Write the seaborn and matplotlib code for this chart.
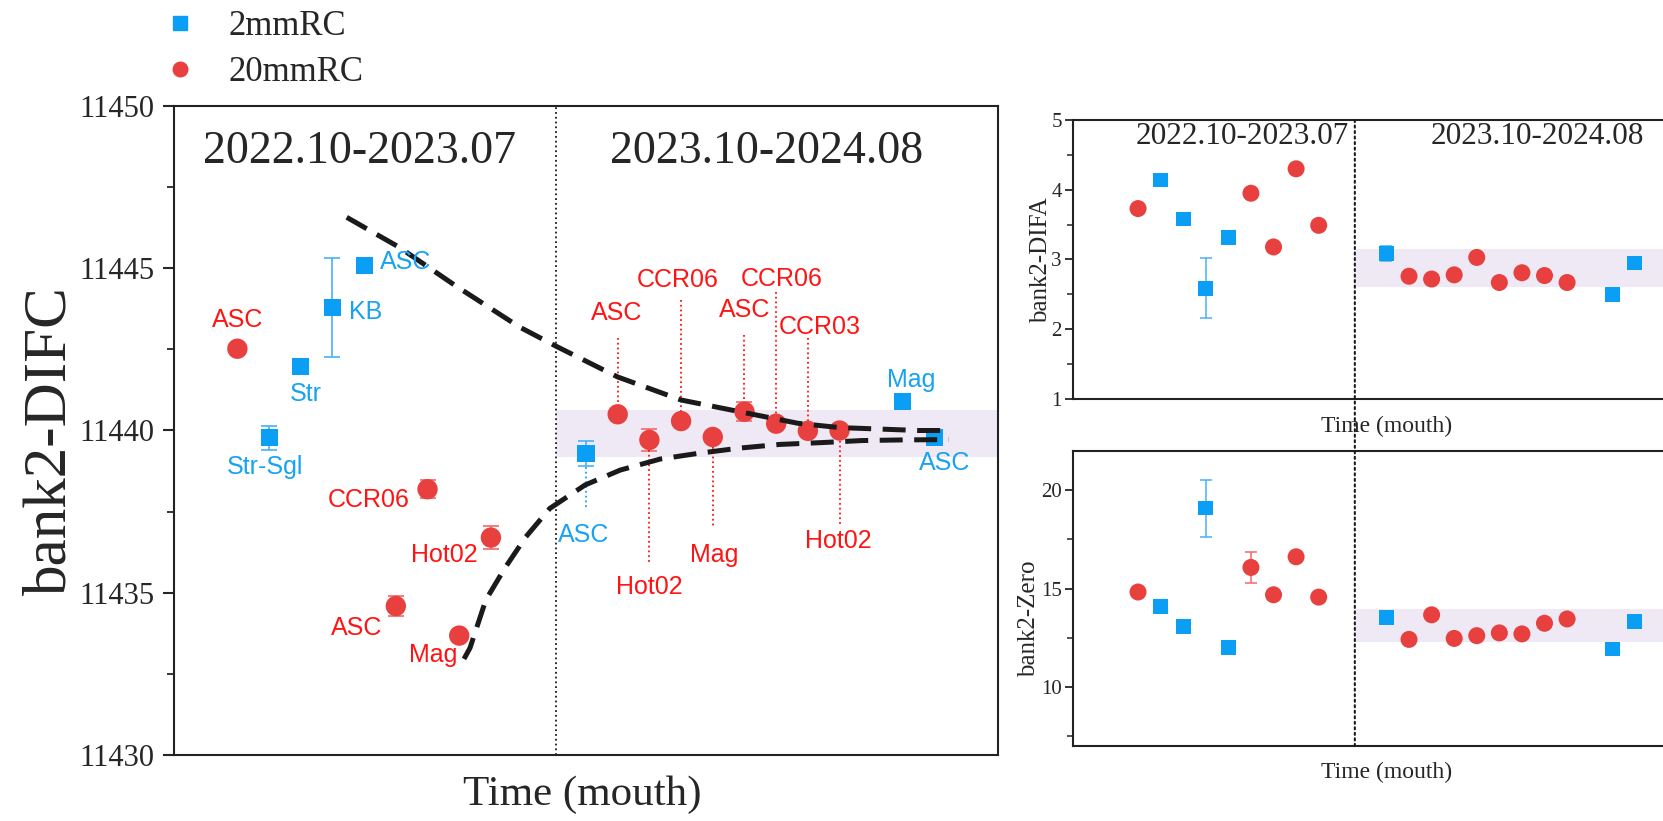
import numpy as np
import pandas as pd
import matplotlib
matplotlib.use("Agg")
import matplotlib.pyplot as plt
import seaborn as sns
from matplotlib.lines import Line2D
from matplotlib.patches import ConnectionPatch
from matplotlib.ticker import AutoMinorLocator, MultipleLocator

# ---------------- data ----------------
slot = [0, 1, 2, 3, 4, 5, 6, 7, 8, 11, 12, 13, 14, 15, 16, 17, 18, 19, 21, 22]
rc_type = ["20mmRC", "2mmRC", "2mmRC", "2mmRC", "2mmRC", "20mmRC", "20mmRC", "20mmRC", "20mmRC",
           "2mmRC", "20mmRC", "20mmRC", "20mmRC", "20mmRC", "20mmRC", "20mmRC", "20mmRC", "20mmRC",
           "2mmRC", "2mmRC"]
sample = ["ASC", "Str-Sgl", "Str", "KB", "ASC", "ASC", "CCR06", "Mag", "Hot02",
          "ASC", "ASC", "Hot02", "CCR06", "Mag", "ASC", "CCR06", "CCR03", "Hot02", "Mag", "ASC"]
difc = [11442.52, 11439.78, 11441.98, 11443.80, 11445.08, 11434.59, 11438.19, 11433.68, 11436.70,
        11439.30, 11440.50, 11439.71, 11440.29, 11439.80, 11440.58, 11440.21, 11439.99, 11440.00,
        11440.89, 11439.79]
difc_err = [0, 0.37, 0, 1.53, 0, 0.30, 0.27, 0.15, 0.35,
            0.38, 0, 0.33, 0, 0, 0.30, 0, 0, 0, 0, 0]
difa = [3.73, 4.14, 3.58, 2.59, 3.32, 3.95, 3.18, 4.30, 3.49,
        3.09, 2.76, 2.72, 2.78, 3.03, 2.67, 2.81, 2.77, 2.67, 2.50, 2.95]
difa_err = [0, 0, 0, 0.43, 0, 0, 0, 0, 0,
            0.11, 0, 0.05, 0, 0, 0, 0, 0, 0, 0, 0]
zero = [14.83, 14.11, 13.09, 19.10, 12.01, 16.08, 14.69, 16.62, 14.57,
        13.55, 12.42, 13.67, 12.47, 12.61, 12.75, 12.70, 13.24, 13.46, 11.93, 13.34]
zero_err = [0, 0, 0, 1.45, 0, 0.77, 0, 0, 0,
            0, 0, 0, 0, 0, 0, 0, 0, 0, 0, 0]

periods = ["2022.10-2023.07", "2023.10-2024.08"]
difc_band = [11439.19, 11440.62]
difa_band = [2.61, 3.15]
zero_band = [12.27, 13.96]

# guide curves
upper_x = [3.45, 5.1, 6.9, 8.9, 10.05, 12.0, 14.0, 16.0, 17.7, 19.0, 21.5, 22.45]
upper_y = [11446.57, 11445.65, 11444.45, 11443.19, 11442.60, 11441.65, 11440.94, 11440.55,
           11440.22, 11440.09, 11440.00, 11440.00]
lower_x = [7.15, 7.34, 7.84, 8.44, 9.1, 9.86, 10.97, 12.08, 13.34, 14.57, 15.87, 17.1, 18.5,
           19.7, 21.0, 22.45]
lower_y = [11432.96, 11433.30, 11434.78, 11435.76, 11436.72, 11437.60, 11438.32, 11438.78,
           11439.12, 11439.30, 11439.46, 11439.57, 11439.63, 11439.69, 11439.71, 11439.72]

df = pd.DataFrame({"slot": slot, "type": rc_type, "sample": sample,
                   "DIFC": difc, "DIFC_err": difc_err,
                   "DIFA": difa, "DIFA_err": difa_err,
                   "Zero": zero, "Zero_err": zero_err})

# ---------------- style ----------------
BLUE = "#0A9FF5"
RED = "#E8403F"
BLUE_TXT = "#17A2F2"
RED_TXT = "#FF1414"
BLUE_ERR = "#45B3F5"
RED_ERR = "#F06A6A"
BAND = "#EEE9F4"
SERIF = ["Liberation Serif", "DejaVu Serif"]
SANS = ["Liberation Sans", "DejaVu Sans"]

sns.set_theme(style="white")
plt.rcParams["font.family"] = SERIF
plt.rcParams["axes.edgecolor"] = "#222222"
plt.rcParams["axes.linewidth"] = 1.5

palette = {"2mmRC": BLUE, "20mmRC": RED}
markers = {"2mmRC": "s", "20mmRC": "o"}
errcol = {"2mmRC": BLUE_ERR, "20mmRC": RED_ERR}
txtcol = {"2mmRC": BLUE_TXT, "20mmRC": RED_TXT}

W, H = 1663, 821
fig = plt.figure(figsize=(W / 100, H / 100), dpi=100)

# ---------------- main panel ----------------
ax = fig.add_axes([174 / W, 1 - 755 / H, 824 / W, 649 / H])
DIV = 10.05
ax.set_xlim(-2, 24)
ax.set_ylim(11430, 11450)
ax.fill_between([DIV, 24], difc_band[0], difc_band[1], color=BAND, lw=0, zorder=0)
ax.axvline(DIV, color="k", ls=":", lw=1.3, zorder=1)

for _, r in df[df.DIFC_err > 0].iterrows():
    ax.errorbar(r.slot, r.DIFC, yerr=r.DIFC_err, fmt="none", ecolor=errcol[r.type],
                elinewidth=1.2, capsize=6, capthick=1.2, zorder=2)

sns.scatterplot(data=df, x="slot", y="DIFC", hue="type", style="type", size="type",
                hue_order=["2mmRC", "20mmRC"], palette=palette, markers=markers,
                sizes={"2mmRC": 150, "20mmRC": 215}, linewidth=0, legend=False,
                ax=ax, zorder=3)

dash = (0, (4.6, 2.3))
ax.plot(upper_x, upper_y, color="k", lw=3.6, ls=dash, zorder=4)
ax.plot(lower_x, lower_y, color="k", lw=3.6, ls=dash, zorder=4)

# label layout: text offset (px) and optional leader (px from point)
lab_off = [(0, 29), (-4, -29), (5, -28), (33, -5), (41, 4), (-39, -22), (-59, -11), (-26, -19),
           (-47, -17), (-2, -82), (-1, 101), (0, -147), (-3, 141), (1, -118), (0, 102),
           (6, 145), (12, 104), (-1, -111), (8, 22), (10, -26)]
leaders = [None] * 9 + [(-14, -57), (76, 9), (-10, -122), (121, 1), (-10, -91), (77, 5),
                        (132, 4), (93, 4), (-6, -94), None, None]

ppu = (649) / 20.0  # px per data unit on y
for i, r in df.iterrows():
    dx, dy = lab_off[i]
    ax.annotate(r["sample"], xy=(r.slot, r.DIFC), xytext=(dx, dy), textcoords="offset pixels",
                ha="center", va="center", fontsize=18, family=SANS, color=txtcol[r.type],
                zorder=5)
    if leaders[i] is not None:
        a, b = leaders[i]
        ax.plot([r.slot, r.slot], [r.DIFC + a / ppu, r.DIFC + b / ppu], ls=":",
                lw=1.3, color=txtcol[r.type], zorder=2)

ax.text(3.86, 11448.6, periods[0], ha="center", va="center", fontsize=33)
ax.text(16.7, 11448.6, periods[1], ha="center", va="center", fontsize=33)

ax.set_xticks([])
ax.yaxis.set_major_locator(MultipleLocator(5))
ax.yaxis.set_minor_locator(AutoMinorLocator(2))
ax.tick_params(axis="y", which="major", direction="out", length=8, width=1.5,
               labelsize=22, pad=6, left=True)
ax.tick_params(axis="y", which="minor", direction="out", length=5, width=1.3, left=True)
ax.set_ylabel("bank2-DIFC", fontsize=44, va="center")
ax.yaxis.set_label_coords(-0.150, 0.484)
ax.set_xlabel("Time (mouth)", fontsize=31, va="center")
ax.xaxis.set_label_coords(0.496, -0.0616)

handles = [Line2D([], [], marker="s", color=BLUE, ls="", ms=9.5),
           Line2D([], [], marker="o", color=RED, ls="", ms=10.5)]
fig.legend(handles, ["2mmRC", "20mmRC"], loc="upper left",
           bbox_to_anchor=(163 / W, 1 - 10 / H), frameon=False, fontsize=25,
           handlelength=1.0, handletextpad=0.9, borderpad=0, labelspacing=0.38,
           borderaxespad=0)

# ---------------- right panels ----------------
RDIV = 9.6
RX0, RX1 = -2.88, 24.0
axA = fig.add_axes([1073 / W, 1 - 399 / H, 607 / W, 279 / H])
axZ = fig.add_axes([1073 / W, 1 - 746 / H, 607 / W, 295 / H])


def side_panel(a, col, err, band, ylim, major, ylabel, lab_xy):
    a.set_xlim(RX0, RX1)
    a.set_ylim(*ylim)
    a.fill_between([RDIV, RX1], band[0], band[1], color=BAND, lw=0, zorder=0)
    for _, r in df[df[err] > 0].iterrows():
        a.errorbar(r.slot, r[col], yerr=r[err], fmt="none", ecolor=errcol[r.type],
                   elinewidth=1.1, capsize=4, capthick=1.1, zorder=2)
    sns.scatterplot(data=df, x="slot", y=col, hue="type", style="type", size="type",
                    hue_order=["2mmRC", "20mmRC"], palette=palette, markers=markers,
                    sizes={"2mmRC": 115, "20mmRC": 150}, linewidth=0, legend=False,
                    ax=a, zorder=3)
    a.set_xticks([])
    a.yaxis.set_major_locator(MultipleLocator(major))
    a.yaxis.set_minor_locator(AutoMinorLocator(2))
    a.tick_params(axis="y", which="major", direction="out", length=6, width=1.3,
                  labelsize=15, pad=2, left=True)
    a.tick_params(axis="y", which="minor", direction="out", length=4, width=1.1, left=True)
    a.set_ylabel(ylabel, fontsize=18, va="center")
    a.yaxis.set_label_coords(*lab_xy)
    a.set_xlabel("Time (mouth)", fontsize=17, va="center")


side_panel(axA, "DIFA", "DIFA_err", difa_band, (1, 5), 1, "bank2-DIFA", (-0.053, 0.498))
axA.xaxis.set_label_coords(0.516, -0.100)
side_panel(axZ, "Zero", "Zero_err", zero_band, (7.0, 22.0), 5, "bank2-Zero", (-0.073, 0.43))
axZ.xaxis.set_label_coords(0.516, -0.088)

axA.text(4.6, 4.77, periods[0], ha="center", va="center", fontsize=22.5)
axA.text(17.7, 4.77, periods[1], ha="center", va="center", fontsize=22.5)

con = ConnectionPatch(xyA=(RDIV, 5), coordsA=axA.transData, xyB=(RDIV, 7.0),
                      coordsB=axZ.transData, ls=":", color="k", lw=1.5, zorder=6)
fig.add_artist(con)

fig.savefig("out.png", dpi=100)
